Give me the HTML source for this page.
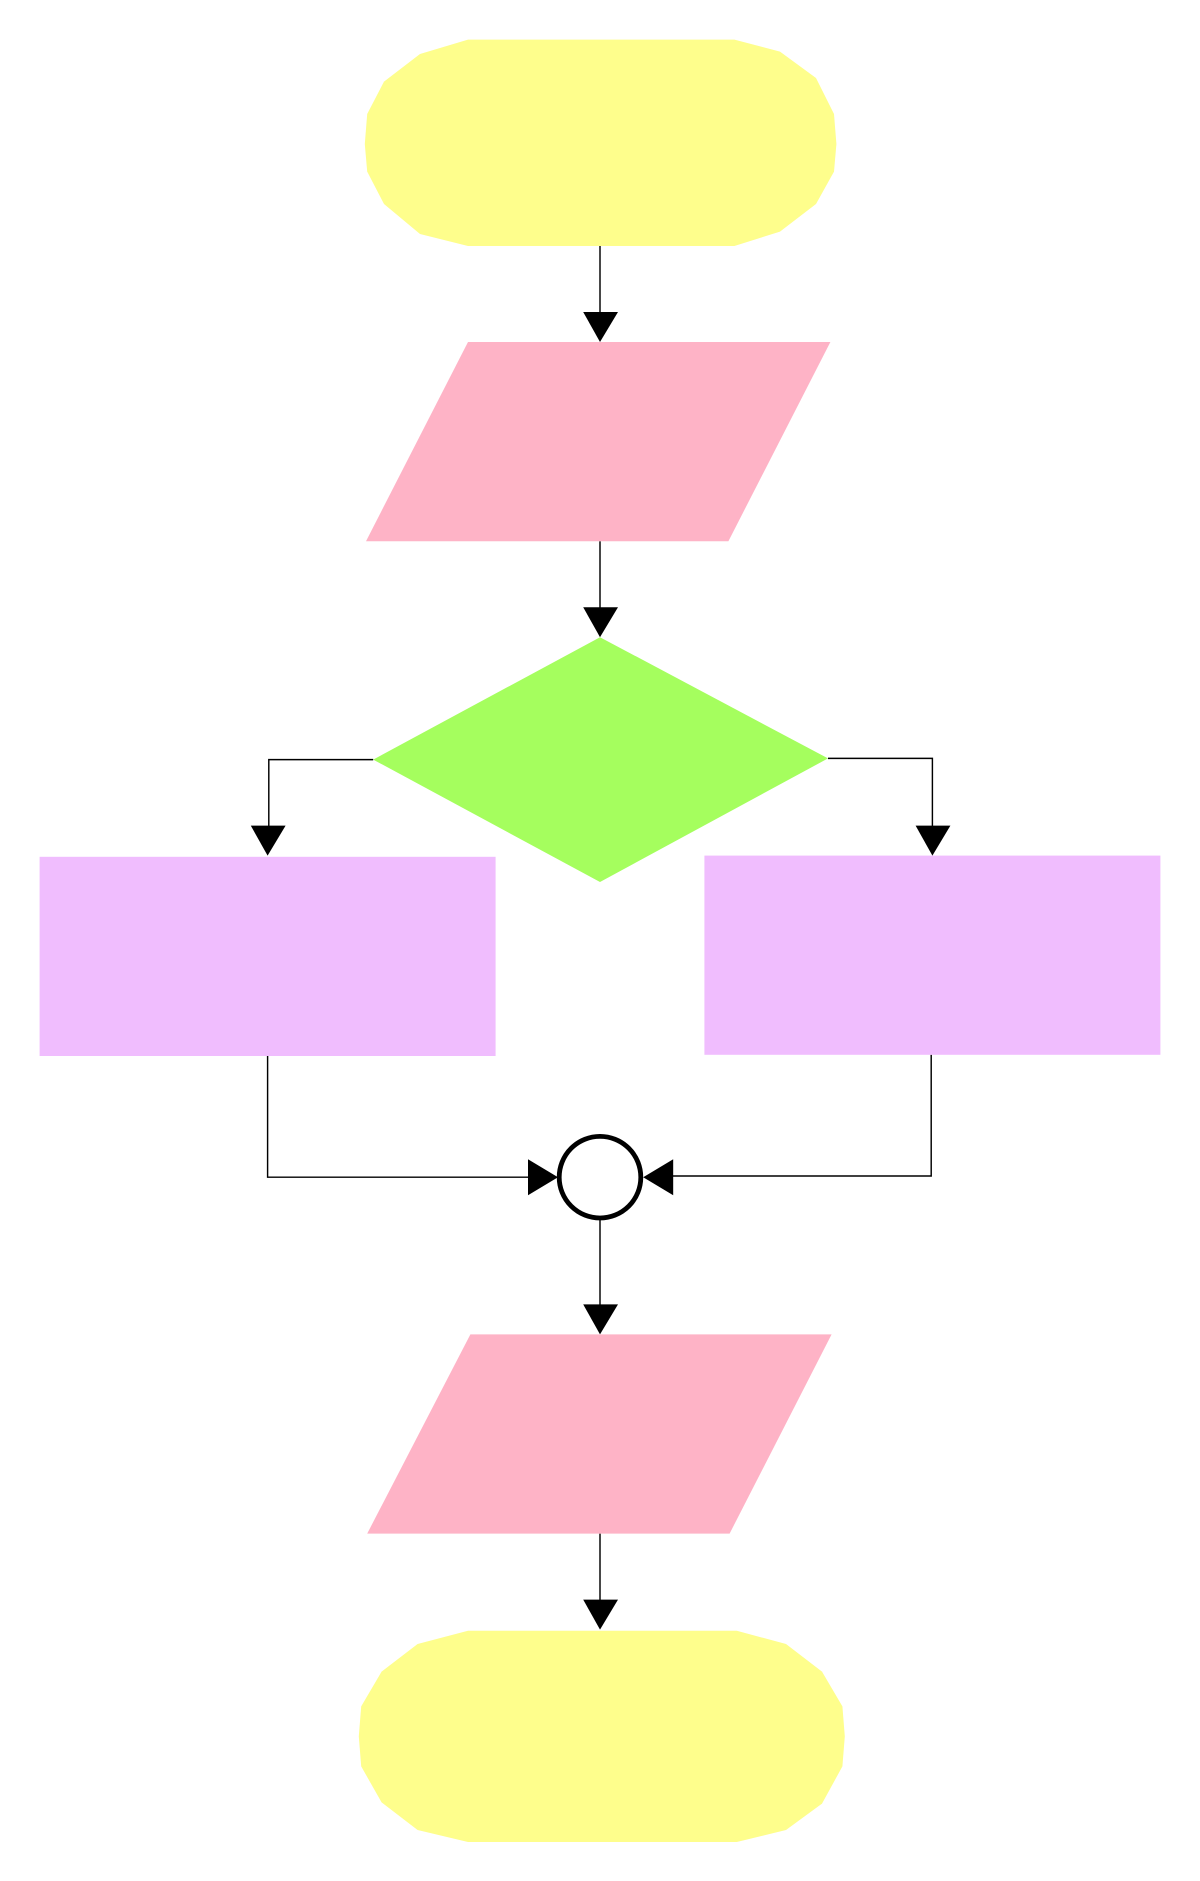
<!DOCTYPE html>
<html><head><meta charset="utf-8"><style>html,body{margin:0;padding:0;background:#fff}svg{display:block}</style></head>
<body>
<svg width="1200" height="1881" viewBox="0 0 1000 1567.5" xmlns="http://www.w3.org/2000/svg">
<g>
<polygon fill="#fefe8c" points="390,33 612,33 650,43 680,65 695,95 697,120 695,143 680,170 650,193 612,205 390,205 350,195 320,170 306,143 304,120 306,95 320,68 350,45"/>
</g>
<g stroke="#000" stroke-width="1.2" fill="none">
<line x1="500" y1="205" x2="500" y2="262"/>
<line x1="500" y1="451" x2="500" y2="508"/>
<polyline points="311,633 224,633 224,690"/>
<polyline points="690,632 777,632 777,690"/>
<polyline points="223,880 223,981 442,981"/>
<polyline points="776,879 776,980 559,980"/>
<line x1="500" y1="1016" x2="500" y2="1089"/>
<line x1="500" y1="1278" x2="500" y2="1335"/>
</g>
<g fill="#000">
<polygon points="486,260 515,260 500,285"/>
<polygon points="486,506 515,506 500,531"/>
<polygon points="209,688 238,688 223,713"/>
<polygon points="763,688 792,688 777,713"/>
<polygon points="440,966 440,996 465,981"/>
<polygon points="561,966 561,996 536,981"/>
<polygon points="486,1087 515,1087 500,1112"/>
<polygon points="486,1333 515,1333 500,1358"/>
</g>
<polygon fill="#feb3c6" points="390,285 692,285 607,451 305,451"/>
<polygon fill="#a5fe5e" points="500,531 690,632 500,735 311,633"/>
<rect x="33" y="714" width="380" height="166" fill="#f0bdfe"/>
<rect x="587" y="713" width="380" height="166" fill="#f0bdfe"/>
<circle cx="500" cy="981" r="34" fill="#fff" stroke="#000" stroke-width="4"/>
<polygon fill="#feb3c6" points="392,1112 693,1112 608,1278 306,1278"/>
<g>
<polygon fill="#fefe8c" points="390,1359 614,1359 655,1370 685,1393 702,1422 704,1447 702,1472 685,1503 655,1525 614,1535 390,1535 348,1525 318,1502 301,1472 299,1447 301,1422 318,1393 348,1370"/>
</g>
</svg>
</body></html>
